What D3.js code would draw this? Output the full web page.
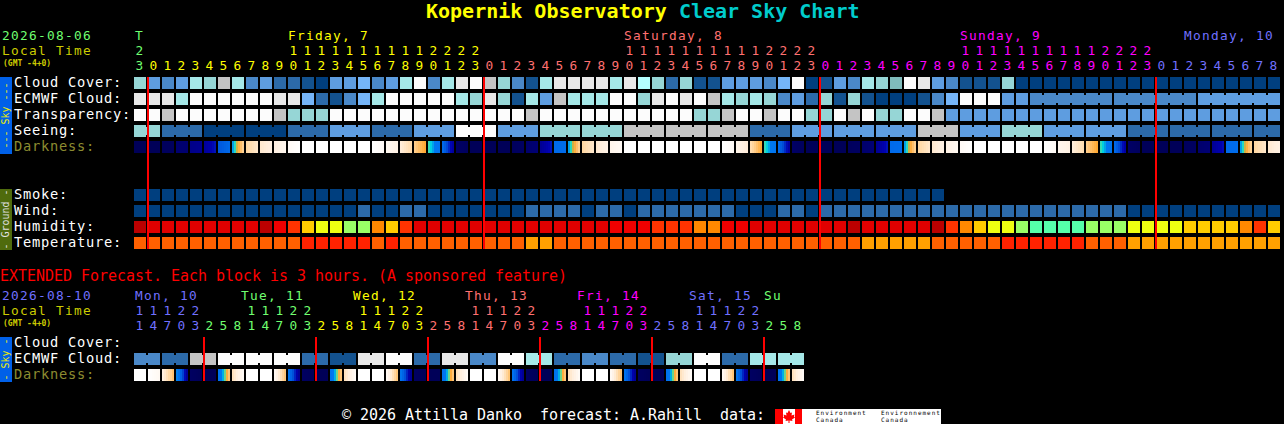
<!DOCTYPE html>
<html>
<head>
<meta charset="utf-8">
<script src="https://cdn.jsdelivr.net/npm/d3@7"></script>
<style>
  html, body { margin: 0; background: #000; }
  svg { display: block; }
  text { font-family: "DejaVu Sans Mono", monospace; white-space: pre; }
</style>
</head>
<body>
<div id="chart"></div>
<script>
// cloud / seeing / wind palette levels
const skyRamp = ['#003f7f', '#13528f', '#2c6aa9', '#4a88c8', '#5e9de0', '#75b5f8', '#b4fefe',
  '#a5e8e8', '#96d6d6', '#80bcbc', '#c4c4c4', '#e8e8e8', '#fcfcfc']
const humidityRamp = ['#bb0000', '#e00000', '#f00000', '#ff3300', '#ff8800', '#ffcc00', '#eeff11', '#99ff66', '#55ffaa']
const temperatureRamp = ['#ff2200', '#ff6000', '#ffa000']
const darknessLevels = [0, 1, 2, 3, 4, 5, 5.4, 5.7, 6, 7, 8, 9]
const darknessRamp = ['#000058', '#000088', '#0000b0', '#0050d8', '#0070ee', '#0078f0', '#00d0e0', '#50e0a0',
  '#ffa020', '#ffd090', '#ffeedd', '#ffffff']

// hour columns
const hours = [23, 0, 1, 2, 3, 4, 5, 6, 7, 8, 9, 10, 11, 12, 13, 14, 15, 16, 17, 18, 19, 20, 21, 22, 23,
  0, 1, 2, 3, 4, 5, 6, 7, 8, 9, 10, 11, 12, 13, 14, 15, 16, 17, 18, 19, 20, 21, 22, 23,
  0, 1, 2, 3, 4, 5, 6, 7, 8, 9, 10, 11, 12, 13, 14, 15, 16, 17, 18, 19, 20, 21, 22, 23,
  0, 1, 2, 3, 4, 5, 6, 7, 8]
const dayNames = ['T', 'Friday, 7', 'Saturday, 8', 'Sunday, 9', 'Monday, 10']
const dayLabelCols = [0, 11, 35, 59, 75]
const dayColors = ['#70ff70', '#ffff00', '#ff7070', '#ff00ff', '#7070ff']

const cloudCover = [8, 4, 3, 4, 7, 8, 10, 7, 3, 4, 2, 2, 1, 0, 4, 4, 5, 3, 4, 7, 12,
  3, 7, 11, 12, 10, 8, 3, 1, 7, 11, 11, 11, 11, 7, 11, 6, 8, 2, 8, 1, 1, 4, 4, 4, 3, 5, 12, 0, 1, 4, 3,
  7, 8, 9, 12, 11, 4, 3, 1, 1, 1, 8, 0, 0, 0, 0, 0, 0, 0, 0, 0, 0, 0, 0, 0, 0, 0, 0, 0, 0, 0]
const ecmwfCloud = [11, 11, 11, 7, 12, 12, 12, 12, 12, 12, 11, 11, 5, 2, 1, 3, 5, 7, 12, 12, 12,
  12, 12, 7, 8, 11, 8, 1, 7, 4, 10, 7, 7, 7, 12, 12, 8, 11, 12, 11, 12, 10, 7, 8, 7, 8, 3, 4, 2, 8, 1, 8,
  1, 0, 0, 0, 1, 3, 5, 12, 12, 12, 4, 4, 3, 3, 4]
const ecmwfRuns = [1, 1, 1, 1, 1, 1, 1, 1, 1, 1, 1, 1, 1, 1, 1, 1, 1, 1, 1, 1, 1, 1, 1, 1, 1, 1, 1, 1, 1, 1, 1, 1,
  1, 1, 1, 1, 1, 1, 1, 1, 1, 1, 1, 1, 1, 1, 1, 1, 1, 1, 1, 1, 1, 1, 1, 1, 1, 1, 1, 1, 1, 1, 1, 1, 6, 6, 6]
const transparency = [12, 12, 10, 12, 12, 12, 12, 12, 12, 12, 10, 8, 8, 8, 12, 12, 12, 12, 12, 12, 12,
  12, 12, 12, 12, 12, 12, 12, 10, 12, 12, 12, 12, 12, 12, 12, 12, 12, 12, 12, 8, 8, 10, 12, 12, 10, 12, 12, 8, 8, 12, 10,
  12, 8, 8, 12, 12, 10, 4, 4, 4, 4, 4, 4, 4, 4, 4, 4, 4, 4, 4, 4, 4, 4, 4, 4, 4, 4, 4, 4, 4, 4]
// seeing comes in 3 hour runs, one value per run
const seeingRuns = [2, 3, 3, 3, 3, 3, 3, 3, 3, 3, 3, 3, 3, 3, 3, 3, 3, 3, 3, 3, 3, 3, 3, 3, 3, 3, 3, 2]
const seeing = [8, 2, 0, 0, 2, 4, 2, 4, 12, 4, 8, 8, 10, 10, 10, 2, 4, 4, 4, 10, 4, 8, 4, 4, 2, 2, 2, 2]
// darkness level at the left and right side of each block
const darkFrom = [0, 0, .1, .5, 1, 1.4, 3.2, 5, 7.2, 7.8, 8.1, 8.7, 9, 9, 9, 9, 9, 9, 8.6, 8, 7, 5.7, 4,
  .3, 0, 0, 0, .1, .4, 1.2, 3.8, 5, 7.2, 7.8, 8.4, 9, 9, 9, 9, 9, 9, 9, 9, 8.4, 7.5, 5.7, 4,
  .3, 0, 0, 0, .1, .4, 1.2, 3.8, 5, 7.2, 7.8, 8.2, 8.7, 9, 9, 9, 9, 9, 9, 8.5, 8, 7, 5.7, 4,
  .3, 0, 0, 0, .1, .4, 1.2, 3.8, 5, 7.2, 7.8]
const darkTo = [0, 0, .1, .5, 1.2, 2.3, 3.8, 7.2, 7.8, 8.1, 8.5, 9, 9, 9, 9, 9, 9, 8.7, 8.2, 7.3, 6.1, 4.5, 1.4,
  .1, 0, 0, 0, .2, .6, 2.3, 3.9, 7.2, 7.8, 8.3, 8.7, 9, 9, 9, 9, 9, 9, 9, 8.7, 7.9, 6.1, 4.5, 1.5,
  .1, 0, 0, 0, .2, .6, 2.3, 3.9, 7.2, 7.8, 8.2, 8.6, 9, 9, 9, 9, 9, 9, 8.7, 8.2, 7.4, 6.1, 4.5, 1.5,
  .1, 0, 0, 0, .2, .6, 2.2, 3.9, 7.2, 7.8, 8.2]
const smoke = [0, 0, 0, 0, 0, 0, 0, 0, 0, 0, 0, 0, 0, 0, 0, 0, 0, 0, 0, 0, 0, 0, 0, 0, 0, 0, 0, 0, 0,
  0, 0, 0, 0, 0, 0, 0, 0, 0, 0, 0, 0, 0, 0, 0, 0, 0, 0, 0, 0, 0, 0, 0, 0, 0, 0, 0, 0, 0]
const wind = [0, 0, 0, 0, 0, 0, 0, 0, 0, 0, 0, 0, 0, 0, 0, 0, 2, 0, 0, 2, 2,
  0, 0, 0, 0, 0, 0, 0, 2, 2, 2, 2, 0, 2, 2, 0, 2, 2, 2, 2, 2, 2, 2, 0, 0, 0, 2, 2, 0, 2, 2, 2,
  2, 2, 2, 2, 2, 2, 2, 2, 2, 2, 2, 2, 2, 2, 2, 2, 2, 2, 2, 0, 0, 0, 0, 0, 0, 0, 0, 0, 0, 0]
const humidity = [0, 1, 1, 1, 1, 1, 1, 1, 1, 0, 2, 3, 5, 6, 6, 7, 7, 4, 5, 3, 1,
  1, 1, 1, 1, 1, 1, 1, 1, 1, 1, 1, 1, 1, 2, 2, 2, 3, 3, 3, 4, 4, 2, 2, 1, 1, 1, 1, 1, 1, 1, 0,
  1, 1, 1, 1, 1, 0, 3, 4, 5, 6, 6, 7, 8, 8, 8, 8, 7, 7, 7, 6, 6, 6, 6, 5, 5, 5, 5, 4, 3, 5]
const temperature = [1, 1, 1, 1, 1, 1, 1, 1, 1, 1, 1, 1, 0, 0, 0, 0, 0, 1, 0, 1, 1,
  1, 1, 1, 1, 1, 1, 1, 2, 2, 1, 1, 1, 1, 1, 1, 1, 1, 1, 1, 1, 1, 1, 1, 1, 1, 1, 1, 1, 1, 1, 1,
  2, 2, 2, 2, 2, 1, 1, 1, 1, 1, 0, 0, 0, 0, 0, 0, 1, 1, 1, 2, 2, 2, 2, 2, 2, 2, 2, 2, 2, 2]

// extended forecast, 3 hour blocks
const extHours = [11, 14, 17, 20, 23,
  2, 5, 8, 11, 14, 17, 20, 23, 2, 5, 8, 11, 14, 17, 20, 23, 2, 5, 8, 11, 14, 17, 20, 23,
  2, 5, 8, 11, 14, 17, 20, 23, 2, 5, 8, 11, 14, 17, 20, 23, 2, 5, 8]
const extDayNames = ['Mon, 10', 'Tue, 11', 'Wed, 12', 'Thu, 13', 'Fri, 14', 'Sat, 15', 'Su']
const extDayCols = [0, 8, 16, 24, 32, 40, 45]
const extDayColors = ['#7070ff', '#70ff70', '#ffff00', '#ff7070', '#ff00ff', '#7070ff', '#70ff70']
const extEcmwfRuns = [2, 2, 2, 2, 2, 2, 2, 2, 2, 2, 2, 2, 2, 2, 2, 2, 2, 2, 2, 2, 2, 2, 2, 2]
const extEcmwf = [3, 2, 10, 12, 12, 12, 2, 1, 11, 12, 2, 11, 3, 12, 7, 2, 3, 2, 1, 8, 12, 2, 7, 7]
const extDarkFrom = [9, 9, 8.2, 5.4, .2, 0, 4, 7.5, 9, 9, 8.8, 4.5, .2, 0, 4, 7.5, 9, 9, 8.8, 4.5, .2, 0, 4, 7.5,
  9, 9, 8.8, 4.5, .2, 0, 4, 7.5, 9, 9, 8.8, 4.5, .2, 0, 4, 7.5, 9, 9, 8.8, 4.5, .2, 0, 4, 7.5]
const extDarkTo = [9, 8.6, 6.6, 1, 0, 0, 7, 8.8, 9, 9, 6.6, 1, 0, 0, 7, 8.8, 9, 9, 6.6, 1, 0, 0, 7, 8.8,
  9, 9, 6.6, 1, 0, 0, 7, 8.8, 9, 9, 6.6, 1, 0, 0, 7, 8.8, 9, 9, 6.6, 1, 0, 0, 7, 8.8]

const width = 1284
const height = 424
const pitch = 14
const blockW = 12
const blockH = 12
const stripes = 6
// the stacked header lines sit 15px apart, the row names 16px
const headerSize = 12.8
const rowSize = 13.7
const lineSize = 15
const charW = 9

const svg = d3.select('#chart').append('svg')
  .attr('width', width)
  .attr('height', height)
svg.append('rect').attr('width', width).attr('height', height).attr('fill', '#000')

const x = d3.scaleLinear().domain([0, 1]).range([134, 134 + pitch])
const skyColor = d3.scaleOrdinal(d3.range(skyRamp.length), skyRamp)
const humidityColor = d3.scaleOrdinal(d3.range(humidityRamp.length), humidityRamp)
const temperatureColor = d3.scaleOrdinal(d3.range(temperatureRamp.length), temperatureRamp)
const darknessColor = d3.scaleLinear().domain(darknessLevels).range(darknessRamp).interpolate(d3.interpolateRgb)

// all labels keep the 9px character cell of the chart
function label (txt, px, py, color, size) {
  return svg.append('text')
    .attr('x', px).attr('y', py)
    .attr('fill', color)
    .style('font-size', size + 'px')
    .style('letter-spacing', (charW - 0.602 * size) + 'px')
    .text(txt)
}

function tiny (txt, px, py) {
  return svg.append('text')
    .attr('x', px).attr('y', py)
    .attr('fill', '#cccc00')
    .style('font-size', '8px')
    .style('font-weight', 'bold')
    .text(txt)
}

// rows of plain blocks
function blockRow (values, color, top) {
  svg.append('g').selectAll('rect').data(values).join('rect')
    .attr('x', (d, i) => x(i))
    .attr('y', top)
    .attr('width', blockW)
    .attr('height', blockH)
    .attr('fill', d => color(d))
}

// blocks of one run are tied together by a narrow neck
function runRow (values, runs, color, top) {
  const cols = []
  runs.forEach((n, r) => {
    const start = d3.sum(runs.slice(0, r))
    d3.range(n).forEach(k => cols.push({col: start + k, v: values[r], neck: k < n - 1}))
  })
  const g = svg.append('g')
  g.selectAll('rect.block').data(cols).join('rect')
    .attr('class', 'block')
    .attr('x', d => x(d.col))
    .attr('y', top)
    .attr('width', blockW)
    .attr('height', blockH)
    .attr('fill', d => color(d.v))
  g.selectAll('rect.neck').data(cols.filter(d => d.neck)).join('rect')
    .attr('class', 'neck')
    .attr('x', d => x(d.col) + blockW)
    .attr('y', top + 2)
    .attr('width', pitch - blockW)
    .attr('height', blockH - 4)
    .attr('fill', d => color(d.v))
}

function darknessRow (from, to, top) {
  const g = svg.append('g')
  const strips = []
  from.forEach((f, i) => {
    d3.range(stripes).forEach(k => {
      strips.push({col: i, k, v: f + (to[i] - f) * (k + 0.5) / stripes})
    })
  })
  g.selectAll('rect').data(strips).join('rect')
    .attr('x', d => x(d.col) + d.k * blockW / stripes)
    .attr('y', top)
    .attr('width', blockW / stripes)
    .attr('height', blockH)
    .attr('fill', d => darknessColor(d.v))
}

function sideBar (txt, top, h, fill, color) {
  svg.append('rect').attr('x', 0).attr('y', top).attr('width', 12).attr('height', h).attr('fill', fill)
  svg.append('text')
    .attr('transform', `translate(9, ${top + h / 2}) rotate(-90)`)
    .attr('text-anchor', 'middle')
    .attr('fill', color)
    .style('font-size', '10px')
    .text(txt)
}

// title
const title = svg.append('text').attr('x', 426).attr('y', 18)
  .style('font-size', '20px').style('font-weight', 'bold')
title.append('tspan').attr('fill', '#ffff00').text('Kopernik Observatory ')
title.append('tspan').attr('fill', '#00cccc').text('Clear Sky Chart')

// main header
label('2026-08-06', 2, 40, '#70ff70', headerSize)
label('Local Time', 2, 55, '#cccc00', headerSize)
tiny('(GMT -4+0)', 3, 65.5)

let day = 0
const hourColors = hours.map((h, i) => {
  if (h === 0 && i > 0) day++
  return dayColors[day]
})
dayNames.forEach((d, i) => label(d, x(dayLabelCols[i]) + (i ? 0 : 1), 40, dayColors[i], headerSize))
hours.forEach((h, i) => {
  if (h >= 10) label(String(h)[0], x(i) + 1.5, 55, hourColors[i], headerSize)
  label(h % 10, x(i) + 1.5, 70, hourColors[i], headerSize)
})

// sky rows
const skyNames = ['Cloud Cover:', 'ECMWF Cloud:', 'Transparency:', 'Seeing:', 'Darkness:']
const skyTops = [77, 93, 109, 125, 141]
skyNames.forEach((d, i) => label(d, 14, skyTops[i] + 10, i === 4 ? '#8c8c30' : '#ffffff', rowSize))
blockRow(cloudCover, skyColor, skyTops[0])
runRow(ecmwfCloud, ecmwfRuns, skyColor, skyTops[1])
blockRow(transparency, skyColor, skyTops[2])
runRow(seeing, seeingRuns, skyColor, skyTops[3])
darknessRow(darkFrom, darkTo, skyTops[4])
sideBar('--- Sky ---', 77, 77, '#0060e8', '#eeee00')

// ground rows
const groundNames = ['Smoke:', 'Wind:', 'Humidity:', 'Temperature:']
const groundTops = [189, 205, 221, 237]
groundNames.forEach((d, i) => label(d, 14, groundTops[i] + 10, '#ffffff', rowSize))
blockRow(smoke, skyColor, groundTops[0])
blockRow(wind, skyColor, groundTops[1])
blockRow(humidity, humidityColor, groundTops[2])
blockRow(temperature, temperatureColor, groundTops[3])
sideBar('- Ground -', 189, 61, '#4f6b0d', '#e0e0e0')

// midnight lines
svg.append('g').selectAll('rect').data(hours.map((h, i) => [h, i]).filter(d => d[0] === 0)).join('rect')
  .attr('x', d => x(d[1]) - 1)
  .attr('y', 77)
  .attr('width', 2)
  .attr('height', 172)
  .attr('fill', '#ff0000')

// extended forecast
label('EXTENDED Forecast. Each block is 3 hours. (A sponsored feature)', 0, 281, '#ff0000', lineSize)
label('2026-08-10', 2, 300, '#7070ff', headerSize)
label('Local Time', 2, 315, '#cccc00', headerSize)
tiny('(GMT -4+0)', 3, 325.5)

let extDay = 0
const extColors = extHours.map((h, i) => {
  if (i > 0 && h < extHours[i - 1]) extDay++
  return extDayColors[extDay]
})
extDayNames.forEach((d, i) => {
  const shift = i === 0 ? 1 : (i === extDayNames.length - 1 ? 0 : -5)
  label(d, x(extDayCols[i]) + shift, 300, extDayColors[i], headerSize)
})
extHours.forEach((h, i) => {
  if (h >= 10) label(String(h)[0], x(i) + 1.5, 315, extColors[i], headerSize)
  label(h % 10, x(i) + 1.5, 330, extColors[i], headerSize)
})

const extNames = ['Cloud Cover:', 'ECMWF Cloud:', 'Darkness:']
const extTops = [337, 353, 369]
extNames.forEach((d, i) => label(d, 14, extTops[i] + 9.5, i === 2 ? '#8c8c30' : '#ffffff', rowSize))
runRow(extEcmwf, extEcmwfRuns, skyColor, extTops[1])
darknessRow(extDarkFrom, extDarkTo, extTops[2])
sideBar('- Sky -', 337, 45, '#0060e8', '#eeee00')

svg.append('g').selectAll('rect').data(extHours.map((h, i) => [h, i]).filter(d => d[0] === 2)).join('rect')
  .attr('x', d => x(d[1]) - 1)
  .attr('y', 337)
  .attr('width', 2)
  .attr('height', 44)
  .attr('fill', '#ff0000')

// footer
label('\u00a9 2026 Attilla Danko  forecast: A.Rahill  data:', 342, 420, '#ffffff', lineSize)
const logo = svg.append('g').attr('transform', 'translate(775, 409)')
logo.append('rect').attr('width', 166).attr('height', 15).attr('fill', '#fff')
logo.append('rect').attr('width', 8).attr('height', 15).attr('fill', '#ff0000')
logo.append('rect').attr('x', 20).attr('width', 7).attr('height', 15).attr('fill', '#ff0000')
// maple leaf
logo.append('path')
  .attr('d', 'M14 1 L15.5 4 L17 3.5 L16.5 6.5 L19.5 5.5 L19 7.5 L20 8.5 L17 10.5 L17.5 12 L14.5 11.5 L14.5 14 L13.5 14 L13.5 11.5 L10.5 12 L11 10.5 L8 8.5 L9 7.5 L8.5 5.5 L11.5 6.5 L11 3.5 L12.5 4 Z')
  .attr('fill', '#ff0000')
const logoNames = [['Environment', 'Canada', 41], ['Environnement', 'Canada', 106]]
logoNames.forEach(d => {
  logo.append('text').attr('x', d[2]).attr('y', 6.2).attr('fill', '#000')
    .style('font-size', '6px').style('letter-spacing', '1px').text(d[0])
  logo.append('text').attr('x', d[2]).attr('y', 13).attr('fill', '#000')
    .style('font-size', '6px').style('letter-spacing', '1px').text(d[1])
})
</script>
</body>
</html>
